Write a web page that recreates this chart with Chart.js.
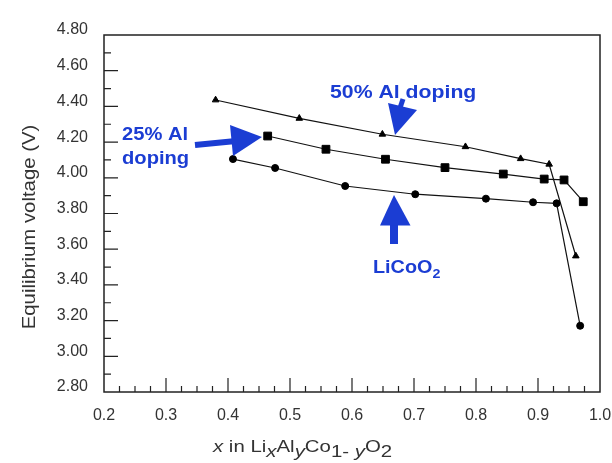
<!DOCTYPE html>
<html>
<head>
<meta charset="utf-8">
<script src="https://cdn.jsdelivr.net/npm/chart.js@4/dist/chart.umd.min.js"></script>
<style>
  html, body { margin: 0; padding: 0; background: #fff; }
  #wrap { width: 612px; height: 463px; }
</style>
</head>
<body>
<div id="wrap"><canvas id="voltChart"></canvas></div>
<script>
// x in LixAlyCo1-yO2 and equilibrium voltage (V)
const licoX   = [0.408, 0.476, 0.589, 0.702, 0.816, 0.892, 0.930, 0.968];
const licoV   = [4.105, 4.055, 3.954, 3.908, 3.883, 3.863, 3.857, 3.171];
const al25X   = [0.464, 0.558, 0.654, 0.750, 0.844, 0.910, 0.942, 0.973];
const al25V   = [4.234, 4.160, 4.104, 4.057, 4.021, 3.993, 3.988, 3.866];
const al50X   = [0.380, 0.515, 0.649, 0.783, 0.872, 0.918, 0.961];
const al50V   = [4.436, 4.333, 4.244, 4.174, 4.107, 4.076, 3.562];

const xTicks = [0.2, 0.3, 0.4, 0.5, 0.6, 0.7, 0.8, 0.9, 1.0];
const yTicks = [2.8, 3.0, 3.2, 3.4, 3.6, 3.8, 4.0, 4.2, 4.4, 4.6, 4.8];

const FONT = '"Liberation Sans", Arial, Helvetica, sans-serif';
const BLUE = '#1b3dd3';

const pts = (xs, ys) => xs.map((x, i) => ({ x: x, y: ys[i] }));

function series(label, xs, ys, style, r) {
    return {
        label: label,
        data: pts(xs, ys),
        borderColor: '#111',
        borderWidth: 1.2,
        backgroundColor: '#000',
        pointStyle: style,
        pointRadius: r,
        pointHoverRadius: r,
        pointBackgroundColor: '#000',
        pointBorderColor: '#000',
        pointBorderWidth: 1,
        tension: 0,
        fill: false
    };
}

// frame with inward ticks, like the original plot
const framePlugin = {
    id: 'frame',
    afterDatasetsDraw(chart) {
        const { ctx, chartArea: a, scales: { x, y } } = chart;
        ctx.save();
        ctx.strokeStyle = '#222';
        ctx.lineWidth = 1.5;
        ctx.strokeRect(a.left, a.top, a.right - a.left, a.bottom - a.top);
        ctx.lineWidth = 1.2;
        ctx.beginPath();
        for (let i = 0; i < yTicks.length - 1; i++) {
            const v0 = yTicks[i], v1 = yTicks[i + 1];
            const ym = y.getPixelForValue((v0 + v1) / 2);
            ctx.moveTo(a.left, ym); ctx.lineTo(a.left + 7, ym);
            if (i > 0) {
                const yp = y.getPixelForValue(v0);
                ctx.moveTo(a.left, yp); ctx.lineTo(a.left + 14, yp);
            }
        }
        for (let i = 0; i < xTicks.length - 1; i++) {
            const v0 = xTicks[i], v1 = xTicks[i + 1];
            for (let k = 1; k < 4; k++) {
                const xm = x.getPixelForValue(v0 + (v1 - v0) * k / 4);
                ctx.moveTo(xm, a.bottom); ctx.lineTo(xm, a.bottom - 6);
            }
            if (i > 0) {
                const xp = x.getPixelForValue(v0);
                ctx.moveTo(xp, a.bottom); ctx.lineTo(xp, a.bottom - 14);
            }
        }
        ctx.stroke();
        ctx.restore();
    }
};

// stretched text helper (the original lettering is wide)
function wideText(ctx, str, x, y, font, sx) {
    ctx.save();
    ctx.font = font;
    ctx.translate(x, y);
    ctx.scale(sx, 1);
    ctx.fillText(str, 0, 0);
    const w = ctx.measureText(str).width * sx;
    ctx.restore();
    return w;
}

const labelPlugin = {
    id: 'labels',
    afterDraw(chart) {
        const ctx = chart.ctx;
        ctx.save();
        ctx.textBaseline = 'alphabetic';
        ctx.textAlign = 'left';

        // y axis title
        ctx.fillStyle = '#333';
        ctx.save();
        ctx.translate(35, 227);
        ctx.rotate(-Math.PI / 2);
        ctx.scale(1.13, 1);
        ctx.font = '18px ' + FONT;
        ctx.textAlign = 'center';
        ctx.fillText('Equilibrium voltage (V)', 0, 0);
        ctx.restore();

        // x axis title with subscripts
        const main = '17px ' + FONT, mainI = 'italic 17px ' + FONT;
        const parts = [
            ['x', mainI, 0], [' in Li', main, 0], ['x', mainI, 5],
            ['Al', main, 0], ['y', mainI, 5], ['Co', main, 0],
            ['1- ', main, 5], ['y', mainI, 5], ['O', main, 0], ['2', main, 5]
        ];
        let cx = 213;
        parts.forEach(p => { cx += wideText(ctx, p[0], cx, 452 + p[2], p[1], 1.2); });

        // blue annotations
        ctx.fillStyle = BLUE;
        ctx.strokeStyle = BLUE;
        const bold = 'bold 18px ' + FONT;
        wideText(ctx, '50% Al doping', 330, 98, bold, 1.18);
        wideText(ctx, '25% Al', 122, 140, bold, 1.12);
        wideText(ctx, 'doping', 122, 164, bold, 1.12);
        const w = wideText(ctx, 'LiCoO', 373, 273, bold, 1.1);
        wideText(ctx, '2', 373 + w, 278, 'bold 13px ' + FONT, 1.1);

        // arrow to 50% line
        ctx.lineWidth = 5;
        ctx.beginPath(); ctx.moveTo(403, 99); ctx.lineTo(400, 108); ctx.stroke();
        ctx.beginPath();
        ctx.moveTo(388, 103); ctx.lineTo(417, 110); ctx.lineTo(395, 135);
        ctx.closePath(); ctx.fill();

        // arrow to 25% line
        ctx.lineWidth = 6;
        ctx.beginPath(); ctx.moveTo(195, 145); ctx.lineTo(236, 141); ctx.stroke();
        ctx.beginPath();
        ctx.moveTo(230, 125); ctx.lineTo(233, 156); ctx.lineTo(262, 137);
        ctx.closePath(); ctx.fill();

        // arrow to LiCoO2 line
        ctx.fillRect(390, 222, 8, 22);
        ctx.beginPath();
        ctx.moveTo(380, 225.5); ctx.lineTo(410.5, 225.5); ctx.lineTo(394, 195);
        ctx.closePath(); ctx.fill();

        ctx.restore();
    }
};

new Chart(document.getElementById('voltChart'), {
    type: 'line',
    data: {
        datasets: [
            series('LiCoO2', licoX, licoV, 'circle', 3.5),
            series('25% Al doping', al25X, al25V, 'rect', 5.5),
            series('50% Al doping', al50X, al50V, 'triangle', 3.8)
        ]
    },
    options: {
        responsive: true,
        maintainAspectRatio: false,
        animation: false,
        layout: { padding: { left: 0, top: 35, right: 12, bottom: 0 } },
        plugins: {
            legend: { display: false },
            tooltip: { enabled: false }
        },
        scales: {
            x: {
                type: 'linear',
                min: 0.2,
                max: 1.0,
                afterBuildTicks: s => { s.ticks = xTicks.map(v => ({ value: v })); },
                afterFit: s => { s.height = 71; s.paddingLeft = 0; s.paddingRight = 0; },
                grid: { display: false, drawTicks: false },
                border: { display: false },
                ticks: {
                    padding: 14,
                    color: '#333',
                    font: { family: FONT, size: 16 },
                    maxRotation: 0,
                    autoSkip: false,
                    callback: v => v.toFixed(1)
                }
            },
            y: {
                type: 'linear',
                min: 2.8,
                max: 4.8,
                afterBuildTicks: s => { s.ticks = yTicks.map(v => ({ value: v })); },
                afterFit: s => { s.width = 104; s.paddingTop = 0; s.paddingBottom = 0; },
                grid: { display: false, drawTicks: false },
                border: { display: false },
                ticks: {
                    padding: 16,
                    labelOffset: -5,
                    color: '#333',
                    font: { family: FONT, size: 16 },
                    callback: v => v.toFixed(2)
                }
            }
        }
    },
    plugins: [framePlugin, labelPlugin]
});
</script>
</body>
</html>
